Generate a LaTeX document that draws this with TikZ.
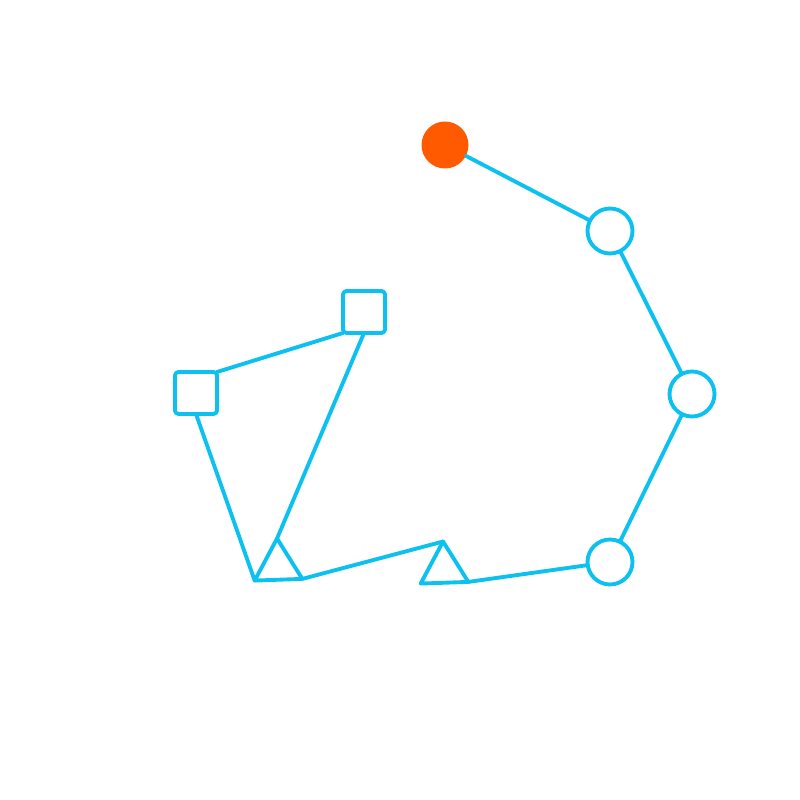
\documentclass[tikz,border=0pt]{standalone}
\usepackage{xcolor}
\usetikzlibrary{shapes.geometric}
\definecolor{linecyan}{RGB}{12,193,240}
\definecolor{startorange}{RGB}{255,90,0}

\begin{document}
\begin{tikzpicture}[
        line width=1.1pt,
        every path/.style={linecyan, line join=round, line cap=round},
        startdot/.style={circle, fill=startorange, draw=none, minimum size=0.47cm, inner sep=0pt, outer sep=0pt},
        ringnode/.style={circle, draw=linecyan, minimum size=0.45cm, inner sep=0pt, outer sep=0pt},
        trinode/.style={regular polygon, regular polygon sides=3, draw=linecyan, minimum size=0.55cm, inner sep=0pt, outer sep=0pt},
        boxnode/.style={rectangle, draw=linecyan, rounded corners=1pt, minimum size=0.42cm, inner sep=0pt, outer sep=0pt}
    ]
        \useasboundingbox (0,0) rectangle (8,8);

        % 起点
        \node[startdot] (start) at (4.45, 6.55) {};

        % 圆形节点
        \node[ringnode] (ringA) at (6.10, 5.69) {};
        \node[ringnode] (ringB) at (6.92, 4.06) {};
        \node[ringnode] (ringC) at (6.10, 2.38) {};

        % 三角形节点
        \node[trinode, shape border rotate=2] (triB) at (4.44, 2.31) {};
        \node[trinode, shape border rotate=2] (triA) at (2.78, 2.34) {};

        % 方形节点
        \node[boxnode] (boxA) at (3.64, 4.88) {};
        \node[boxnode] (boxB) at (1.96, 4.07) {};

        % 连线
        \draw (start) -- (ringA);
        \draw (ringA) -- (ringB);
        \draw (ringB) -- (ringC);
        \draw (ringC) -- (triB.corner 3);
        \draw (triB.corner 1) -- (triA.corner 3);
        \draw (triA.corner 2) -- (boxB.south);
        \draw (boxB.north east) -- (boxA.south west);
        \draw (boxA.south) -- (triA.corner 1);

    \end{tikzpicture}
\end{document}
